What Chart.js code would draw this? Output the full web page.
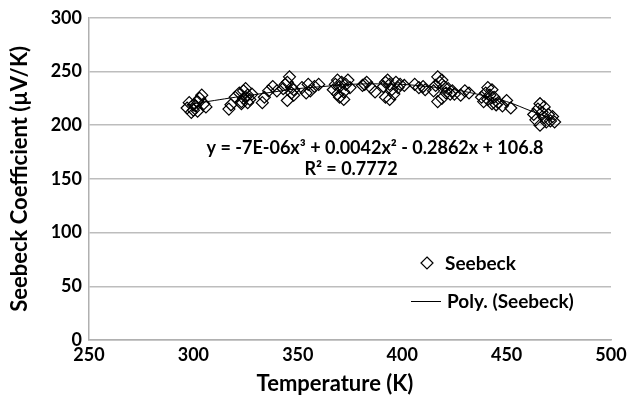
<!DOCTYPE html>
<html><head><meta charset="utf-8">
<script src="https://cdn.jsdelivr.net/npm/chart.js@4"></script>
<style>html,body{margin:0;padding:0;background:#fff}#w{width:632px;height:403px}</style>
</head><body><div id="w"><canvas id="c" width="632" height="403"></canvas></div>
<script>
const temperature = [297,298,299,300,301,302,303,304,305,306,300,302,
 317,318,320,322,323,324,325,326,327,323,325,326,328,324,
 333,334,336,338,340,343,345,346,347,348,345,347,344,348,
 352,355,356,358,360,354,
 367,368,369,370,371,372,373,374,370,372,369,375,
 381,383,385,387,382,
 391,392,393,394,395,396,397,398,392,399,401,394,
 406,408,410,411,
 415,416,417,418,419,420,421,422,419,423,424,417,425,
 428,430,432,
 438,439,440,441,442,443,444,445,441,443,446,
 448,450,452,
 463,464,465,466,467,468,469,470,471,472,473,466,468];
const seebeck = [216,221,212,214,218,213,225,228,220,217,219,222,
 215,219,226,230,222,232,226,228,224,220,234,221,229,225,
 221,226,232,236,232,234,240,245,235,228,223,230,238,233,
 235,238,232,236,238,230,
 233,238,242,236,240,231,238,242,226,224,229,235,
 237,240,235,231,238,
 236,240,242,238,233,229,240,235,226,238,237,224,
 238,235,236,233,
 232,237,245,240,242,236,230,234,225,229,232,222,229,
 228,232,230,
 226,222,230,235,228,220,226,219,224,233,221,
 218,223,216,
 210,205,215,220,212,207,203,210,204,208,203,200,217];
const trendT = [297,310,320,335,350,362,375,388,400,412,425,438,450,462,473];
const trendS = [219,223,226,230,234,236,238,238.5,238,236,233,228,222,213,205];
const xTicks = [250,300,350,400,450,500];
const yTicks = [0,50,100,150,200,250,300];
const xTitle = 'Temperature (K)';
const yTitle = 'Seebeck Coefficient (µV/K)';
const equation = 'y = -7E-06x³ + 0.0042x² - 0.2862x + 106.8';
const rSquared = 'R² = 0.7772';

const FONT = 'Lato, "Open Sans", sans-serif';
const pts = temperature.map((t,i)=>({x:t,y:seebeck[i]}));
const trend = trendT.map((t,i)=>({x:t,y:trendS[i]}));

const overlay = {
  id:'overlay',
  afterDraw(chart){
    const ctx = chart.ctx;
    ctx.save();
    ctx.fillStyle = '#000';
    ctx.textAlign = 'center'; ctx.textBaseline = 'middle';
    ctx.font = 'bold 22px ' + FONT;
    ctx.fillText(xTitle, 335, 384);
    ctx.font = 'bold 18px ' + FONT;
    ctx.fillText(equation, 375, 148);
    ctx.fillText(rSquared, 351, 169);
    // legend
    ctx.strokeStyle = '#000'; ctx.lineWidth = 1.2;
    const dx = 427, dy = 263, r = 6;
    ctx.beginPath(); ctx.moveTo(dx, dy-r); ctx.lineTo(dx+r, dy); ctx.lineTo(dx, dy+r); ctx.lineTo(dx-r, dy); ctx.closePath(); ctx.stroke();
    ctx.font = 'bold 19px ' + FONT; ctx.textAlign = 'left';
    ctx.fillText('Seebeck', 445, 264);
    ctx.lineWidth = 1;
    ctx.beginPath(); ctx.moveTo(411, 301.5); ctx.lineTo(441, 301.5); ctx.stroke();
    ctx.fillText('Poly. (Seebeck)', 447, 302);
    ctx.restore();
  }
};

new Chart(document.getElementById('c'), {
  type:'scatter',
  data:{datasets:[
    {label:'Poly. (Seebeck)', data:trend, showLine:true, borderColor:'#000', borderWidth:1, pointRadius:0, tension:0.4, order:2},
    {label:'Seebeck', data:pts, pointStyle:'rectRot', pointRadius:6, pointBorderWidth:1.2, pointBorderColor:'#000', pointBackgroundColor:'rgba(255,255,255,0)', order:1}
  ]},
  options:{
    responsive:false, animation:false, devicePixelRatio:1,
    layout:{padding:{left:0,right:21,top:17,bottom:0}},
    plugins:{legend:{display:false}, tooltip:{enabled:false}},
    scales:{
      x:{type:'linear', min:250, max:500,
        afterBuildTicks(a){a.ticks = xTicks.map(v=>({value:v}));},
        afterFit(a){a.height = 63;},
        grid:{display:false, drawTicks:false},
        border:{color:'#b0b0b0', width:1.5},
        ticks:{color:'#000', padding:4, font:{family:FONT, size:18, weight:'bold'}, maxRotation:0},
        title:{display:false}
      },
      y:{type:'linear', min:0, max:300,
        afterBuildTicks(a){a.ticks = yTicks.map(v=>({value:v}));},
        afterFit(a){a.width = 89;},
        grid:{color:'#bdbdbd', lineWidth:1.5, drawTicks:false},
        border:{color:'#b0b0b0', width:1.5},
        ticks:{color:'#000', padding:7, font:{family:FONT, size:18, weight:'bold'}},
        title:{display:true, text:yTitle, color:'#000', font:{family:FONT, size:22, weight:'bold'}, padding:{top:7,bottom:0}}
      }
    }
  },
  plugins:[overlay]
});
</script></body></html>
